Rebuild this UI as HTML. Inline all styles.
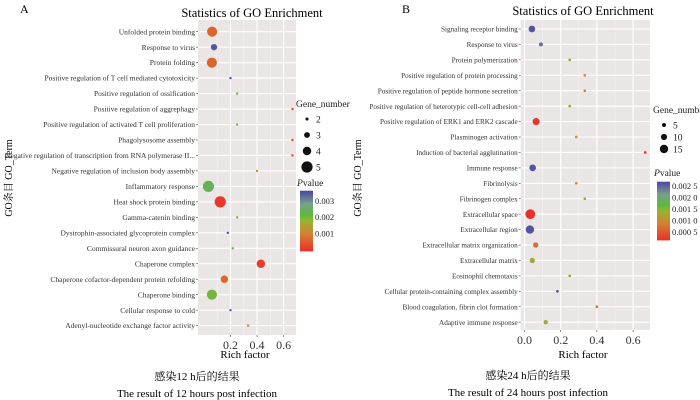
<!DOCTYPE html>
<html><head><meta charset="utf-8">
<style>
body{margin:0;background:#fff;}
svg{display:block;font-family:"Liberation Serif","Noto Serif CJK SC",serif;}
</style></head>
<body>
<svg id="chart" width="700" height="400" viewBox="0 0 700 400">
<text x="20" y="13" font-size="12">A</text>
<text x="252" y="17" font-size="12.5" text-anchor="middle">Statistics of GO Enrichment</text>
<text x="402" y="13" font-size="12">B</text>
<text x="583" y="15" font-size="12.5" text-anchor="middle">Statistics of GO Enrichment</text>
<text transform="translate(12,178) rotate(-90)" font-size="10" text-anchor="middle">GO条目 GO_Term</text>
<text transform="translate(361,178) rotate(-90)" font-size="10" text-anchor="middle">GO条目 GO_Term</text>
<text x="245" y="358" font-size="11" text-anchor="middle">Rich factor</text>
<text x="583" y="358" font-size="11" text-anchor="middle">Rich factor</text>
<text x="197" y="380" font-size="11" text-anchor="middle">感染12 h后的结果</text>
<text x="197" y="397" font-size="11" text-anchor="middle">The result of 12 hours post infection</text>
<text x="528" y="379" font-size="11" text-anchor="middle">感染24 h后的结果</text>
<text x="528" y="396" font-size="11" text-anchor="middle">The result of 24 hours post infection</text>
</svg>
<script>
const termsA=["Unfolded protein binding","Response to virus","Protein folding","Positive regulation of T cell mediated cytotoxicity","Positive regulation of ossification","Positive regulation of aggrephagy","Positive regulation of activated T cell proliferation","Phagolysosome assembly","Negative regulation of transcription from RNA polymerase II...","Negative regulation of inclusion body assembly","Inflammatory response","Heat shock protein binding","Gamma-catenin binding","Dystrophin-associated glycoprotein complex","Commissural neuron axon guidance","Chaperone complex","Chaperone cofactor-dependent protein refolding","Chaperone binding","Cellular response to cold","Adenyl-nucleotide exchange factor activity"];
const richA=[0.062,0.076,0.06,0.2,0.25,0.667,0.25,0.667,0.667,0.4,0.034,0.123,0.25,0.18,0.217,0.429,0.154,0.06,0.2,0.333];
const genesA=[4.6,3.2,4.6,1.6,1.6,1.6,1.6,1.6,1.6,1.6,5,5,1.6,1.6,1.6,4,3.6,4.6,1.6,1.6];
const pvalA=[0.0006,0.0035,0.0006,0.0035,0.002,0.0001,0.002,0.0001,0.0002,0.001,0.0024,0.0000,0.002,0.0036,0.0022,0.0001,0.0006,0.002,0.0034,0.0012];
const ticksA=[0.2,0.4,0.6];
const geneLegA=[2,3,4,5];
const pTicksA=[0.003,0.002,0.001];

const termsB=["Signaling receptor binding","Response to virus","Protein polymerization","Positive regulation of protein processing","Positive regulation of peptide hormone secretion","Positive regulation of heterotypic cell-cell adhesion","Positive regulation of ERK1 and ERK2 cascade","Plasminogen activation","Induction of bacterial agglutination","Immune response","Fibrinolysis","Fibrinogen complex","Extracellular space","Extracellular region","Extracellular matrix organization","Extracellular matrix","Eosinophil chemotaxis","Cellular protein-containing complex assembly","Blood coagulation, fibrin clot formation","Adaptive immune response"];
const richB=[0.041,0.091,0.25,0.333,0.333,0.25,0.064,0.286,0.667,0.045,0.286,0.333,0.032,0.03,0.062,0.043,0.25,0.182,0.4,0.117];
const genesB=[11,5,2,2,2,2,12,2,2,11,2,2,18,15,8,8,2,2,2,6];
const pvalB=[0.0026,0.0024,0.0013,0.0009,0.0009,0.0013,0.0002,0.0011,0.0002,0.0026,0.0011,0.0011,0.0001,0.0026,0.0007,0.0013,0.0013,0.0027,0.0007,0.0013];
const ticksB=[0.0,0.2,0.4,0.6];
const tickLabB=["0.0","0.2","0.4","0.6"];
const geneLegB=[5,10,15];
const pTicksB=[0.0025,0.0020,0.0015,0.0010,0.0005];
const pTickLabB=["0.002 5","0.002 0","0.001 5","0.001 0","0.000 5"];

const svg=document.getElementById('chart');
const NS='http://www.w3.org/2000/svg';
function mk(tag,attrs){const e=document.createElementNS(NS,tag);for(const k in attrs)e.setAttribute(k,attrs[k]);svg.appendChild(e);return e;}
const stops=[[0,[232,48,42]],[0.28,[214,128,48]],[0.5,[150,180,50]],[0.6,[92,186,58]],[0.78,[120,160,140]],[1,[74,70,163]]];
function colorAt(f){f=Math.max(0,Math.min(1,f));for(let i=1;i<stops.length;i++){if(f<=stops[i][0]){const a=stops[i-1],b=stops[i];const t=(f-a[0])/(b[0]-a[0]);const c=a[1].map((v,j)=>Math.round(v+(b[1][j]-v)*t));return 'rgb('+c.join(',')+')';}}return 'rgb(74,70,163)';}

function panel(cfg){
  const {id,x0,x1,y0,y1,xmin,xmax,rowY0,rowStep,terms,rich,genes,pval,ticks,tickLab,rFn,pmin,pmax,legX,geneY,geneLeg,pTitleY,barTop,barBot,pTicks,pTickLab,fs}=cfg;
  const xs=v=>x0+(v-xmin)/(xmax-xmin)*(x1-x0);
  const ys=i=>rowY0+i*rowStep;
  const bg=mk('rect',{x:x0,y:y0,width:x1-x0,height:y1-y0,fill:'#ebe6e6'});
  
  
  for(let i=0;i<ticks.length;i++){
    const mv=ticks[i]-0.1;
    if(mv>xmin){const l=mk('line',{x1:xs(mv),x2:xs(mv),y1:y0,y2:y1,stroke:'#f6f4f4','stroke-width':0.6});
      
      }
  }
  {const mv=ticks[ticks.length-1]+0.1;if(mv<xmax){const l=mk('line',{x1:xs(mv),x2:xs(mv),y1:y0,y2:y1,stroke:'#f6f4f4','stroke-width':0.6});
      
      }}
  for(let i=0;i<ticks.length;i++){
    const X=xs(ticks[i]);
    const l=mk('line',{x1:X,x2:X,y1:y0,y2:y1,stroke:'#fff','stroke-width':1.1});
    
    
    const tk=mk('line',{x1:X,x2:X,y1:y1,y2:y1+2,stroke:'#444','stroke-width':0.6});
    
    
    const t=mk('text',{x:X,y:y1+14,'font-size':12,'text-anchor':'middle',fill:'#333'});
    t.textContent=tickLab?tickLab[i]:String(ticks[i]);
    
    
  }
  for(let i=0;i<terms.length;i++){
    const Y=ys(i);
    const g=mk('line',{x1:x0,x2:x1,y1:Y,y2:Y,stroke:'#fff','stroke-width':1.1});
    
    
    const tk=mk('line',{x1:x0-2,x2:x0,y1:Y,y2:Y,stroke:'#444','stroke-width':0.6});
    
    
    const t=mk('text',{x:x0-3,y:Y+2.6,'font-size':fs,'text-anchor':'end',fill:'#333'});
    t.textContent=terms[i];
    
    
  }
  for(let i=0;i<terms.length;i++){
    const c=mk('circle',{cx:xs(rich[i]),cy:ys(i),r:rFn(genes[i]),fill:colorAt((pval[i]-pmin)/(pmax-pmin))});
    
    
  }
  const gt=mk('text',{x:legX-4,y:geneY-8,'font-size':9.5,fill:'#222'});
  gt.textContent='Gene_number';
  
  
  for(let i=0;i<geneLeg.length;i++){
    const Y=geneY+4+i*cfg.geneStep;
    const c=mk('circle',{cx:legX+7,cy:Y,r:rFn(geneLeg[i]),fill:'#111'});
    
    
    const t=mk('text',{x:legX+16,y:Y+3.5,'font-size':9.5,fill:'#222'});
    t.textContent=geneLeg[i];
    
    
  }
  const pt=mk('text',{x:legX-3,y:pTitleY,'font-size':9.5,fill:'#222'});
  pt.innerHTML='<tspan font-style="italic">P</tspan>value';
  
  
  const n=40,bh=(barBot-barTop)/n;
  for(let k=0;k<n;k++){
    const pv=pmax-(k+0.5)/n*(pmax-pmin);
    const r=mk('rect',{x:legX,y:barTop+k*bh,width:13,height:bh+0.4,fill:colorAt((pv-pmin)/(pmax-pmin))});
    
    
  }
  for(let i=0;i<pTicks.length;i++){
    const Y=barTop+(pmax-pTicks[i])/(pmax-pmin)*(barBot-barTop);
    const t=mk('text',{x:legX+15,y:Y+3,'font-size':8.5,fill:'#222'});
    t.textContent=pTickLab?pTickLab[i]:String(pTicks[i]);
    
    
  }
}
panel({id:'panel-a',x0:198,x1:296,y0:20,y1:335,xmin:-0.0445,xmax:0.6935,rowY0:31.7,rowStep:15.47,terms:termsA,rich:richA,genes:genesA,pval:pvalA,ticks:ticksA,tickLab:null,fs:7.5,
  rFn:g=>Math.max(1.2,1.35*(g-1)+0.2),pmin:-0.0001,pmax:0.00364,legX:300,geneY:115,geneLeg:geneLegA,geneStep:16,pTitleY:186,barTop:190.7,barBot:251,pTicks:pTicksA,pTickLab:null});
panel({id:'panel-b',x0:520.7,x1:650,y0:20,y1:330,xmin:-0.021,xmax:0.6935,rowY0:29,rowStep:15.43,terms:termsB,rich:richB,genes:genesB,pval:pvalB,ticks:ticksB,tickLab:tickLabB,fs:7.2,
  rFn:g=>0.9+0.22*g,pmin:0.00015,pmax:0.00269,legX:657,geneY:121,geneLeg:geneLegB,geneStep:12,pTitleY:176,barTop:181.7,barBot:240,pTicks:pTicksB,pTickLab:pTickLabB});
</script>
</body></html>
